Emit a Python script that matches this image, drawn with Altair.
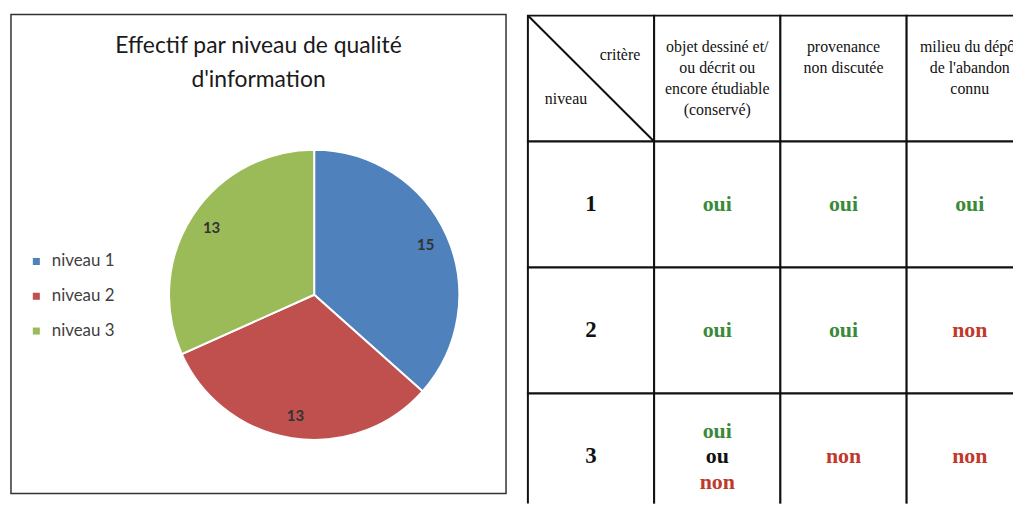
import altair as alt
import pandas as pd

# ---- pie data ----
niveaux = ["niveau 1", "niveau 2", "niveau 3"]
effectifs = [15, 13, 13]
couleurs = ["#4F81BD", "#C0504D", "#9BBB59"]

# ---- table data ----
criteres = [
    "objet dessiné et/\nou décrit ou\nencore étudiable\n(conservé)",
    "provenance\nnon discutée",
    "milieu du dépôt\nde l'abandon\nconnu",
]
lignes_niveau = ["1", "2", "3"]
reponses = [
    [["oui"], ["oui"], ["oui"]],
    [["oui"], ["oui"], ["non"]],
    [["oui", "ou", "non"], ["non"], ["non"]],
]
n_cols = 4
n_rows = 4

pie_df = pd.DataFrame({"niveau": niveaux, "effectif": effectifs, "ordre": [1, 2, 3]})

base = alt.Chart(pie_df).encode(
    theta=alt.Theta("effectif:Q", stack=True),
    order=alt.Order("ordre:Q", sort="ascending"),
)
arcs = base.mark_arc(outerRadius=146, stroke="white", strokeWidth=2).encode(
    color=alt.Color(
        "niveau:N",
        scale=alt.Scale(domain=niveaux, range=couleurs),
        legend=alt.Legend(
            title=None, orient="none", legendX=17, legendY=240,
            symbolType="square", symbolSize=50, symbolStrokeWidth=0,
            labelFont="Lato", labelFontSize=17, labelColor="#404040",
            labelOffset=7, rowPadding=17, padding=0,
        ),
    ),
    x=alt.value(305), y=alt.value(282),
)
labels = base.mark_text(
    radius=123, font="Lato", fontSize=15, fontWeight="bold", color="#333333"
).encode(
    text="effectif:Q", detail="niveau:N",
    x=alt.value(305), y=alt.value(282),
)
pie = alt.layer(arcs, labels).properties(
    width=498, height=482,
    title=alt.TitleParams(
        ["Effectif par niveau de qualité", "d'information"],
        font="Lato", fontSize=23, fontWeight="normal", color="#1a1a1a",
        anchor="middle", frame="group", lineHeight=34, offset=-78,
    ),
    view=alt.ViewBackground(stroke="#333333", strokeWidth=1.5),
)

# ---- table construction ----
cells = []
for r in range(n_rows):
    for c in range(n_cols):
        cells.append({"c": c, "r": r})
cells_df = pd.DataFrame(cells)

xs = alt.Scale(domain=[0, n_cols], range=[2, 510])
ys = alt.Scale(domain=[0, n_rows], range=[1, 508])

grid = alt.Chart(cells_df).mark_rect(
    fill="white", stroke="#111111", strokeWidth=2, clip=True
).transform_calculate(c2="datum.c + 1", r2="datum.r + 1").encode(
    x=alt.X("c:Q", scale=xs, axis=None),
    x2="c2:Q",
    y=alt.Y("r:Q", scale=ys, axis=None),
    y2="r2:Q",
)

diag_df = pd.DataFrame({"x1": [0], "y1": [0], "x2": [1], "y2": [1]})
diag = alt.Chart(diag_df).mark_rule(color="#111111", strokeWidth=2, clip=True).encode(
    x=alt.X("x1:Q", scale=xs, axis=None), x2="x2:Q",
    y=alt.Y("y1:Q", scale=ys, axis=None), y2="y2:Q",
)

corner_df = pd.DataFrame({"t": ["critère", "niveau"], "c": [0, 0], "r": [0, 0]})
critere_txt = alt.Chart(corner_df).transform_filter("datum.t == 'critère'").mark_text(
    font="Liberation Serif", fontSize=16, align="right", baseline="middle",
    dx=-14, dy=40, color="#111111", clip=True,
).transform_calculate(xr="datum.c + 1").encode(
    x=alt.X("xr:Q", scale=xs, axis=None), y=alt.Y("r:Q", scale=ys, axis=None), text="t:N"
)
niveau_txt = alt.Chart(corner_df).transform_filter("datum.t == 'niveau'").mark_text(
    font="Liberation Serif", fontSize=16, align="left", baseline="middle",
    dx=17, dy=84, color="#111111", clip=True,
).encode(
    x=alt.X("c:Q", scale=xs, axis=None), y=alt.Y("r:Q", scale=ys, axis=None), text="t:N"
)

head_df = pd.DataFrame({"t": criteres, "c": [1, 2, 3], "r": [0, 0, 0]})
head_txt = alt.Chart(head_df).mark_text(
    font="Liberation Serif", fontSize=16, align="center", baseline="top",
    lineBreak="\n", lineHeight=21, dy=24, color="#111111", clip=True,
).transform_calculate(xc="datum.c + 0.5").encode(
    x=alt.X("xc:Q", scale=xs, axis=None), y=alt.Y("r:Q", scale=ys, axis=None), text="t:N"
)

rowlab_df = pd.DataFrame({"t": lignes_niveau, "c": [0, 0, 0], "r": [1, 2, 3]})
rowlab_txt = alt.Chart(rowlab_df).mark_text(
    font="Liberation Serif", fontSize=23, fontWeight="bold", align="center",
    baseline="middle", color="#111111", clip=True,
).transform_calculate(xc="datum.c + 0.5", yc="datum.r + 0.5").encode(
    x=alt.X("xc:Q", scale=xs, axis=None), y=alt.Y("yc:Q", scale=ys, axis=None), text="t:N"
)

rep = []
for ri, row in enumerate(reponses):
    for ci, cell in enumerate(row):
        n = len(cell)
        for li, mot in enumerate(cell):
            rep.append({"t": mot, "c": ci + 1, "r": ri + 1, "ligne": li - (n - 1) / 2})
rep_df = pd.DataFrame(rep)

couleur_rep = alt.Color(
    "t:N", scale=alt.Scale(domain=["oui", "ou", "non"], range=["#3a8a3a", "#111111", "#c0392b"]),
    legend=None,
)

def rep_layer(ligne, dy):
    return alt.Chart(rep_df).transform_filter(f"datum.ligne == {ligne}").mark_text(
        font="Liberation Serif", fontSize=22, fontWeight="bold", align="center",
        baseline="middle", dy=dy, clip=True,
    ).transform_calculate(xc="datum.c + 0.5", yc="datum.r + 0.5").encode(
        x=alt.X("xc:Q", scale=xs, axis=None), y=alt.Y("yc:Q", scale=ys, axis=None),
        text="t:N", color=couleur_rep,
    )

table = alt.layer(
    grid, diag, critere_txt, niveau_txt, head_txt, rowlab_txt,
    rep_layer(-1, -26), rep_layer(0, 0), rep_layer(1, 26),
).properties(width=490, height=492, view=alt.ViewBackground(stroke=None))

chart = alt.hconcat(pie, table, spacing=19).resolve_scale(color="independent").properties(
    padding={"left": 2, "top": 4, "right": 0, "bottom": 0},
    background="white",
)

chart.save("out.html", embed_options={"renderer": "svg", "actions": False})
